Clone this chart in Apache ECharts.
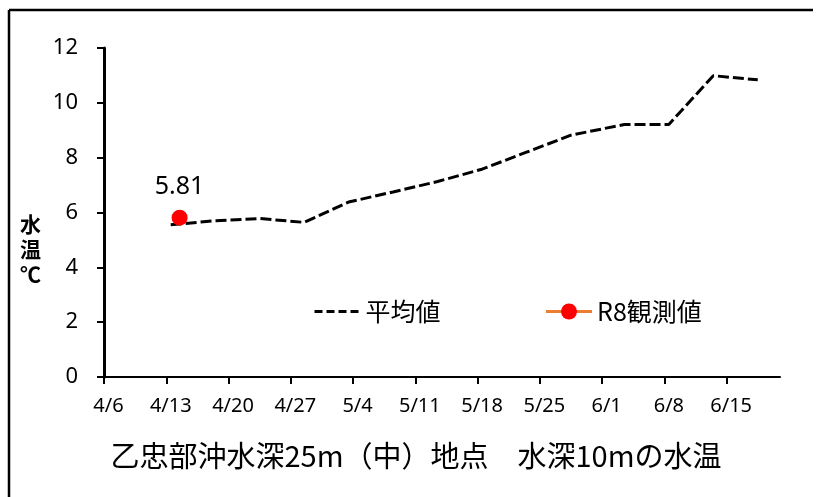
<!DOCTYPE html>
<html>
<head>
<meta charset="utf-8">
<script src="https://cdn.jsdelivr.net/npm/echarts@6/dist/echarts.min.js"></script>
<style>
  html, body { margin: 0; padding: 0; background: #fff; }
  #chart { width: 817px; height: 497px; }
</style>
</head>
<body>
<div id="chart"></div>
<script>
// Pentad averages of water temperature at 10 m depth (°C)
const avgDates = ['4/13', '4/18', '4/23', '4/28', '5/3', '5/8', '5/13', '5/18', '5/23', '5/28', '6/3', '6/8', '6/13', '6/18'];
const avgValues = [5.55, 5.70, 5.78, 5.64, 6.38, 6.75, 7.13, 7.58, 8.20, 8.82, 9.21, 9.21, 10.99, 10.84];

// R8 observations
const obsDates = ['4/14'];
const obsValues = [5.81];

// Weekly date ticks on the horizontal axis
const tickDates = ['4/6', '4/13', '4/20', '4/27', '5/4', '5/11', '5/18', '5/25', '6/1', '6/8', '6/15'];
const axisStart = '4/6';
const axisEnd = '6/21';
const yTicks = [0, 2, 4, 6, 8, 10, 12];

const YEAR = 2026;
const DAY = 86400000;
function toUTC(md) {
  const [m, d] = md.split('/').map(Number);
  return Date.UTC(YEAR, m - 1, d);
}
const origin = toUTC(axisStart);
// days elapsed since the axis start
function dayIndex(md) { return Math.round((toUTC(md) - origin) / DAY); }
function dayLabel(idx) {
  const dt = new Date(origin + idx * DAY);
  return (dt.getUTCMonth() + 1) + '/' + dt.getUTCDate();
}
// each point sits in the middle of its own day
const avgData = avgDates.map((d, i) => [dayIndex(d) + 0.5, avgValues[i]]);
const obsData = obsDates.map((d, i) => [dayIndex(d) + 0.5, obsValues[i]]);
const tickValues = tickDates.map(dayIndex);

const chart = echarts.init(document.getElementById('chart'), null, { renderer: 'canvas' });

chart.setOption({
  backgroundColor: '#ffffff',
  animation: false,
  textStyle: { fontFamily: '"Noto Sans", "Noto Sans CJK JP", sans-serif', color: '#000' },
  grid: { left: 104, right: 37, top: 48, bottom: 120, containLabel: false },
  legend: {
    left: 308,
    top: 294,
    itemWidth: 46,
    itemHeight: 20,
    itemGap: 104,
    textStyle: { fontSize: 25, color: '#000', fontFamily: '"Noto Sans CJK JP", sans-serif' },
    data: [
      { name: '平均値', lineStyle: { type: [8, 4], width: 3, color: '#000' }, itemStyle: { opacity: 0 } },
      { name: 'R8観測値', lineStyle: { width: 3, color: '#ed7d31' } }
    ]
  },
  xAxis: {
    type: 'value',
    min: dayIndex(axisStart),
    max: dayIndex(axisEnd),
    axisLine: { show: true, lineStyle: { color: '#000', width: 2 } },
    axisTick: { show: true, inside: false, length: 7, lineStyle: { color: '#000', width: 2 }, customValues: tickValues },
    axisLabel: {
      customValues: tickValues,
      formatter: v => dayLabel(v),
      fontSize: 20,
      color: '#000',
      margin: 19,
      padding: [0, 0, 0, 9]
    },
    splitLine: { show: false }
  },
  yAxis: {
    type: 'value',
    min: yTicks[0],
    max: yTicks[yTicks.length - 1],
    interval: 2,
    axisLine: { show: true, lineStyle: { color: '#000', width: 3 } },
    axisTick: { show: true, inside: false, length: 7, lineStyle: { color: '#000', width: 2 } },
    axisLabel: { fontSize: 22, color: '#000', margin: 26 },
    splitLine: { show: false }
  },
  series: [
    {
      name: '平均値',
      type: 'line',
      data: avgData,
      symbol: 'none',
      lineStyle: { color: '#000', width: 3, type: [11, 4], cap: 'butt' },
      itemStyle: { color: '#000' },
      z: 2
    },
    {
      name: 'R8観測値',
      type: 'line',
      data: obsData,
      symbol: 'circle',
      symbolSize: 16,
      itemStyle: { color: '#ff0000' },
      lineStyle: { color: '#ed7d31', width: 3 },
      label: {
        show: true,
        position: 'top',
        distance: 10,
        fontSize: 25,
        color: '#000',
        formatter: p => p.value[1].toFixed(2)
      },
      z: 3
    }
  ],
  graphic: [
    // frame edges
    { type: 'line', shape: { x1: 9, y1: 10, x2: 813, y2: 10 }, style: { stroke: '#000', lineWidth: 2.5 }, silent: true },
    { type: 'line', shape: { x1: 9, y1: 10, x2: 9, y2: 497 }, style: { stroke: '#000', lineWidth: 2.5 }, silent: true },
    // vertical axis name
    {
      type: 'text', left: 20, top: 212,
      style: {
        text: '水\n温\n℃', fontSize: 21, fontWeight: 'bold', lineHeight: 25,
        fontFamily: '"Noto Sans CJK JP", sans-serif', fill: '#000', align: 'center'
      }
    },
    // chart caption
    {
      type: 'text', x: 416, y: 456,
      style: {
        text: '乙忠部沖水深25m（中）地点　水深10mの水温', fontSize: 29,
        fontFamily: '"Noto Sans CJK JP", sans-serif', fill: '#000',
        align: 'center', verticalAlign: 'middle'
      }
    }
  ]
});
</script>
</body>
</html>
